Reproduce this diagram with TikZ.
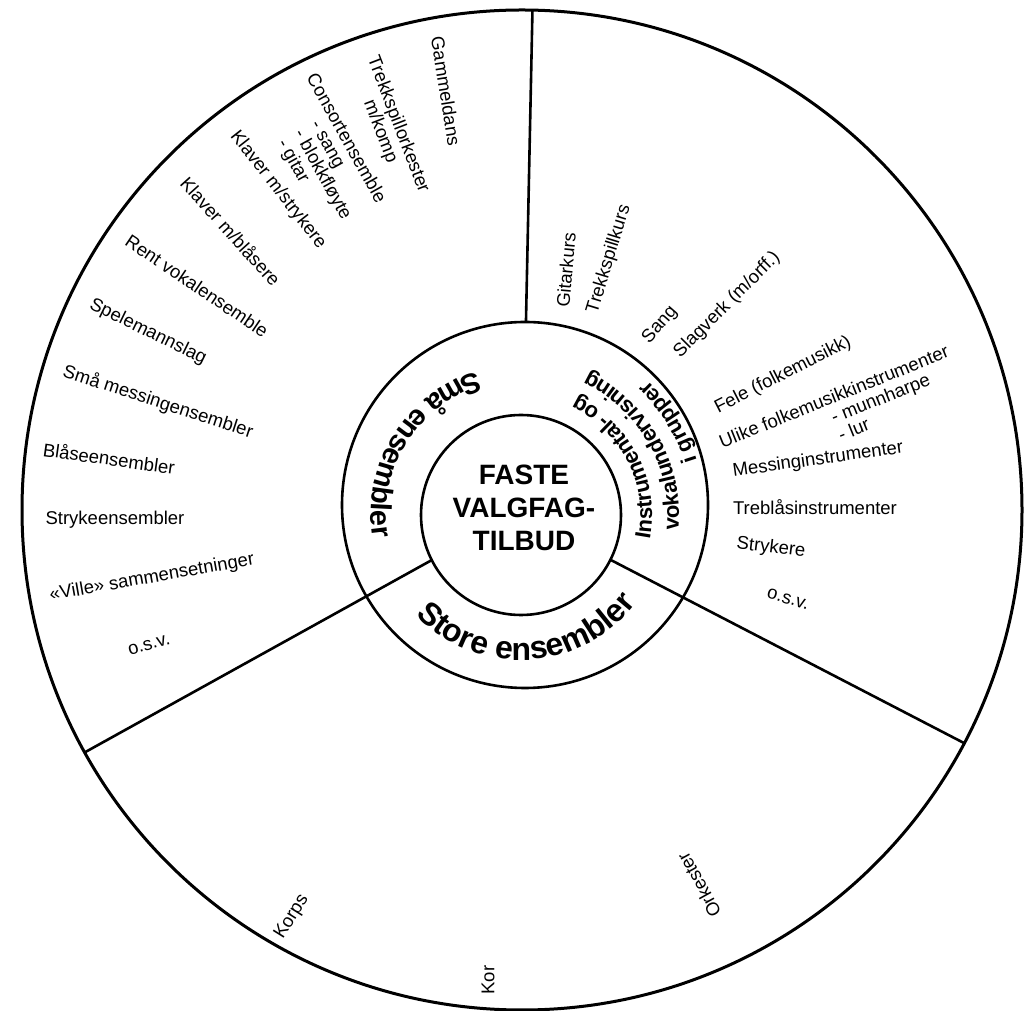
\documentclass[tikz,border=0pt]{standalone}
\usepackage{fontspec}
\setmainfont{Liberation Sans}
\usetikzlibrary{decorations.text}

\newcommand\vfleaf{\fontsize{18.5}{19}\selectfont}
\newcommand\vfhub{\bfseries\fontsize{28}{33}\selectfont}
\newcommand\vfsma{\bfseries\fontsize{29}{29}\selectfont}
\newcommand\vfstore{\bfseries\fontsize{32}{32}\selectfont}
\newcommand\vfgrp{\bfseries\fontsize{22}{22}\selectfont}

% pos/angle/name/text
\def\smallEnsembles{{(446,919)/-81/gammeldans/Gammeldans}, {(278,820)/-52/klaverstryk/{Klaver m/strykere}}, {(231,779)/-48/klaverblas/{Klaver m/blåsere}}, {(197,724)/-34/rentvokal/Rent vokalensemble}, {(148,678)/-26/spelemann/Spelemannslag}, {(158,608)/-18/smamessing/Små messingensembler}, {(109,552)/-8/blaase/Blåseensembler}, {(115,490)/0/stryke/Strykeensembler}, {(152,432)/10/ville/«Ville» sammensetninger}, {(149,365)/16/osvleft/o.s.v.}}
\def\groupCourses{{(566,740)/85/gitar/Gitarkurs}, {(609,751)/73/trekkkurs/Trekkspillkurs}, {(660,685)/49/sang/Sang}, {(727,705)/45/slagverk/{Slagverk (m/orff.)}}, {(783,635)/27/fele/Fele (folkemusikk)}, {(818,550)/8/messing/Messinginstrumenter}, {(815,503)/0/trebl/Treblåsinstrumenter}, {(771,462)/-7/strykere/Strykere}, {(788,411)/-16/osvright/o.s.v.}}
\def\bigEnsembles{{(292,93)/58/korps/Korps}, {(488,30)/90/kor/Kor}, {(699,125)/119/orkester/Orkester}}

\tikzstyle{rim} = [draw, line width=3pt]
\tikzstyle{ring} = [draw, line width=2.6pt]
\tikzstyle{spoke} = [draw, line width=2.6pt]
\tikzstyle{leaf} = [font=\vfleaf, inner sep=0pt]
\tikzstyle{leaf block} = [leaf, align=left, anchor=north west]
\tikzstyle{hub} = [font=\vfhub, align=center, inner sep=0pt]

\begin{document}
\begin{tikzpicture}[x=1pt, y=1pt]
  \useasboundingbox (0,0) rectangle (1026,1010);

  % The three circles
  \coordinate (O) at (522,500);
  \coordinate (M) at (525,505);
  \coordinate (I) at (521,495);
  \draw[rim] (O) circle[radius=500];
  \draw[ring] (M) circle[radius=183];
  \draw[ring] (I) circle[radius=100];

  % Spokes between the sectors
  \path (M) ++(89.7:183) coordinate (top-in);
  \path (O) ++(88.8:500) coordinate (top-out);
  \path (I) ++(206.8:100) coordinate (left-in);
  \path (O) ++(209:500) coordinate (left-out);
  \path (I) ++(-26.6:100) coordinate (right-in);
  \path (O) ++(-27.8:500) coordinate (right-out);
  \path[spoke] (top-in) -- (top-out);
  \path[spoke] (left-in) -- (left-out);
  \path[spoke] (right-in) -- (right-out);

  % The hub
  \node[hub] (hub) at (524,502) {FASTE\\VALGFAG-\\TILBUD};

  % Ring titles
  \path (I) ++(90:150) coordinate (sma-start);
  \path[decorate, decoration={text along path, text align=center,
    text={|\vfsma|Små ensembler}}] (sma-start) arc[start angle=90, end angle=206, radius=150];
  \path (I) ++(213:145) coordinate (store-start);
  \path[decorate, decoration={text along path, text align=center,
    text={|\vfstore|Store ensembler}}] (store-start) arc[start angle=213, end angle=333, radius=145];
  \path (I) ++(-33:131) coordinate (grp-one);
  \path[decorate, decoration={text along path, text align=center,
    text={|\vfgrp|Instrumental- og}}] (grp-one) arc[start angle=-33, end angle=87, radius=131];
  \path (I) ++(-30.5:158) coordinate (grp-two);
  \path[decorate, decoration={text along path, text align=center,
    text={|\vfgrp|vokalundervisning}}] (grp-two) arc[start angle=-30.5, end angle=89.5, radius=158];
  \path (I) ++(-28:184) coordinate (grp-three);
  \path[decorate, decoration={text along path, text align=center,
    text={|\vfgrp|i grupper}}] (grp-three) arc[start angle=-28, end angle=92, radius=184];

  % Small ensembles
  \foreach \pos/\ang/\name/\txt in \smallEnsembles {
    \node[leaf, rotate=\ang] (\name) at \pos {\txt};
    }
  \node[leaf, rotate=-69, align=center] (trekkork) at (389,882) {Trekkspillorkester\\m/komp};
  \node[leaf block, rotate=-61] (consort) at (318,939)
    {Consortensemble\\\hspace*{43pt}- sang\\\hspace*{43pt}- blokkfløyte\\\hspace*{43pt}- gitar};

  % Group tuition
  \foreach \pos/\ang/\name/\txt in \groupCourses {
    \node[leaf, rotate=\ang] (\name) at \pos {\txt};
    }
  \node[leaf block, rotate=22] (ulike) at (717,574)
    {Ulike folkemusikkinstrumenter\\\hspace*{113pt}- munnharpe\\\hspace*{113pt}- lur};

  % Large ensembles
  \foreach \pos/\ang/\name/\txt in \bigEnsembles {
    \node[leaf, rotate=\ang] (\name) at \pos {\txt};
    }
\end{tikzpicture}
\end{document}
